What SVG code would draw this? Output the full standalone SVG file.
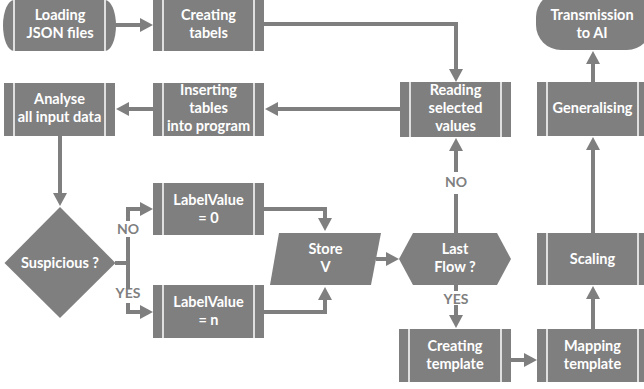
<svg xmlns="http://www.w3.org/2000/svg" width="644" height="389" viewBox="0 0 644 389">
<style>
.s{fill:#7f7f7f}
.il{stroke:#fff;stroke-width:1.5}
.t{font-family:Lato,"Liberation Sans",sans-serif;font-weight:bold;font-size:14.5px;fill:#fff;text-anchor:middle}
.lb{font-family:Lato,"Liberation Sans",sans-serif;font-weight:bold;font-size:14px;fill:#7f7f7f;text-anchor:middle}
.c{fill:none;stroke:#7f7f7f;stroke-width:4}
.a{marker-end:url(#ah)}
</style>
<defs>
<marker id="ah" viewBox="0 0 13 14" markerWidth="13" markerHeight="14" refX="7" refY="7" orient="auto" markerUnits="userSpaceOnUse">
<path d="M0,0 L13,7 L0,14 Z" fill="#7f7f7f"/>
</marker>
</defs>
<rect width="644" height="389" fill="#fff"/>
<g id="connectors">
<path class="c a" d="M115,25 H147"/>
<path class="c a" d="M264,24 H456 V76"/>
<path class="c a" d="M400,109 H271"/>
<path class="c a" d="M153,109 H122"/>
<path class="c a" d="M60,136 V200"/>
<path class="c" d="M115,263 H128"/>
<path class="c a" d="M128,221 V209 H147"/>
<path class="c" d="M128,237 V289"/>
<path class="c a" d="M128,303 V312 H147"/>
<path class="c a" d="M264,209 H325 V225"/>
<path class="c a" d="M264,312 H325 V293"/>
<path class="c a" d="M376,259 H393"/>
<path class="c" d="M456,233 V194"/>
<path class="c a" d="M456,172 V144"/>
<path class="c" d="M456,285 V291"/>
<path class="c a" d="M456,305 V322"/>
<path class="c a" d="M511,360 H531"/>
<path class="c a" d="M593,329 V292"/>
<path class="c a" d="M593,233 V143"/>
<path class="c a" d="M593,82 V57"/>
<text class="lb" x="128" y="234">NO</text>
<text class="lb" x="128" y="298">YES</text>
<text class="lb" x="456" y="187">NO</text>
<text class="lb" x="456" y="304">YES</text>
</g>
<g id="loading">
<path class="s" d="M14,0 H105 A11,25.5 0 0 1 105,51 H14 A11,25.5 0 0 1 14,0 Z"/>
<line class="il" x1="14" y1="0" x2="14" y2="51"/>
<line class="il" x1="105" y1="0" x2="105" y2="51"/>
<text class="t" x="60" y="20">Loading</text>
<text class="t" x="60" y="38">JSON files</text>
</g>
<g id="creating-tabels">
<rect class="s" x="153" y="0" width="111" height="51"/>
<line class="il" x1="163" y1="0" x2="163" y2="51"/>
<line class="il" x1="254" y1="0" x2="254" y2="51"/>
<text class="t" x="208.5" y="20">Creating</text>
<text class="t" x="208.5" y="38">tabels</text>
</g>
<g id="analyse">
<rect class="s" x="4" y="83" width="111" height="53"/>
<line class="il" x1="14" y1="83" x2="14" y2="136"/>
<line class="il" x1="105" y1="83" x2="105" y2="136"/>
<text class="t" x="59.5" y="104">Analyse</text>
<text class="t" x="59.5" y="122">all input data</text>
</g>
<g id="inserting">
<rect class="s" x="153" y="83" width="111" height="53"/>
<line class="il" x1="163" y1="83" x2="163" y2="136"/>
<line class="il" x1="254" y1="83" x2="254" y2="136"/>
<text class="t" x="208.5" y="95">Inserting</text>
<text class="t" x="208.5" y="113">tables</text>
<text class="t" x="208.5" y="131">into program</text>
</g>
<g id="reading">
<rect class="s" x="400" y="82" width="111" height="55"/>
<line class="il" x1="410" y1="82" x2="410" y2="137"/>
<line class="il" x1="501" y1="82" x2="501" y2="137"/>
<text class="t" x="455.5" y="95">Reading</text>
<text class="t" x="455.5" y="113">selected</text>
<text class="t" x="455.5" y="131">values</text>
</g>
<g id="transmission">
<rect class="s" x="536" y="-8" width="116" height="58" rx="25" ry="25"/>
<text class="t" x="592" y="20">Transmission</text>
<text class="t" x="592" y="38">to AI</text>
</g>
<g id="generalising">
<rect class="s" x="537" y="82" width="111" height="54"/>
<line class="il" x1="547" y1="82" x2="547" y2="136"/>
<line class="il" x1="638" y1="82" x2="638" y2="136"/>
<text class="t" x="592.5" y="113">Generalising</text>
</g>
<g id="suspicious">
<path class="s" d="M60,207 L115.5,263 L60,318 L4.5,263 Z"/>
<text class="t" x="60" y="268">Suspicious ?</text>
</g>
<g id="label0">
<rect class="s" x="153" y="183" width="111" height="52"/>
<line class="il" x1="163" y1="183" x2="163" y2="235"/>
<line class="il" x1="254" y1="183" x2="254" y2="235"/>
<text class="t" x="208.5" y="205">LabelValue</text>
<text class="t" x="208.5" y="223">= 0</text>
</g>
<g id="labeln">
<rect class="s" x="153" y="285" width="111" height="53"/>
<line class="il" x1="163" y1="285" x2="163" y2="338"/>
<line class="il" x1="254" y1="285" x2="254" y2="338"/>
<text class="t" x="208.5" y="307">LabelValue</text>
<text class="t" x="208.5" y="325">= n</text>
</g>
<g id="store">
<path class="s" d="M279,233 H381 L371,285 H270 Z"/>
<text class="t" x="325.5" y="254">Store</text>
<text class="t" x="325.5" y="272">V</text>
</g>
<g id="lastflow">
<path class="s" d="M399,259 L413,233 H497 L511,259 L497,285 H413 Z"/>
<text class="t" x="455" y="254">Last</text>
<text class="t" x="455" y="272">Flow ?</text>
</g>
<g id="scaling">
<rect class="s" x="537" y="233" width="111" height="52"/>
<line class="il" x1="547" y1="233" x2="547" y2="285"/>
<line class="il" x1="638" y1="233" x2="638" y2="285"/>
<text class="t" x="592.5" y="264">Scaling</text>
</g>
<g id="creating-template">
<rect class="s" x="399" y="329" width="112" height="53"/>
<line class="il" x1="409" y1="329" x2="409" y2="382"/>
<line class="il" x1="501" y1="329" x2="501" y2="382"/>
<text class="t" x="455" y="351">Creating</text>
<text class="t" x="455" y="369">template</text>
</g>
<g id="mapping">
<rect class="s" x="537" y="329" width="111" height="53"/>
<line class="il" x1="547" y1="329" x2="547" y2="382"/>
<line class="il" x1="638" y1="329" x2="638" y2="382"/>
<text class="t" x="592.5" y="351">Mapping</text>
<text class="t" x="592.5" y="369">template</text>
</g>
</svg>
